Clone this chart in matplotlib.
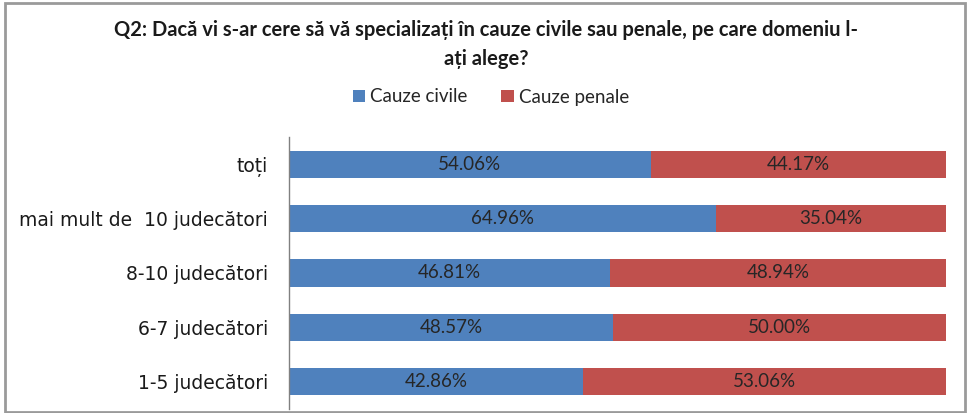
import matplotlib
matplotlib.use("Agg")
import matplotlib.pyplot as plt
from matplotlib.patches import Rectangle
import numpy as np

categories = ["toți", "mai mult de  10 judecători", "8-10 judecători", "6-7 judecători", "1-5 judecători"]
civile = [54.06, 64.96, 46.81, 48.57, 42.86]
penale = [44.17, 35.04, 48.94, 50.00, 53.06]
series_names = ["Cauze civile", "Cauze penale"]
title = "Q2: Dacă vi s-ar cere să vă specializați în cauze civile sau penale, pe care domeniu l-\nați alege?"

blue = "#4F81BD"
red = "#C0504D"

fig = plt.figure(figsize=(9.68, 4.13), dpi=100)
ax = fig.add_axes([289/968, 1-409/413, (946-289)/968, (409-137)/413])

civ = np.array(civile)
pen = np.array(penale)
tot = civ + pen
civ_n = civ / tot
pen_n = pen / tot
y = np.arange(len(categories))

b1 = ax.barh(y, civ_n, height=0.5, color=blue, label=series_names[0])
b2 = ax.barh(y, pen_n, left=civ_n, height=0.5, color=red, label=series_names[1])

lab_font = dict(family=["Lato", "DejaVu Sans"], fontsize=13.5, color="#262626")
for i in range(len(categories)):
    ax.text(civ_n[i] / 2, y[i], f"{civ[i]:.2f}%", ha="center", va="center", **lab_font)
    ax.text(civ_n[i] + pen_n[i] / 2, y[i], f"{pen[i]:.2f}%", ha="center", va="center", **lab_font)

ax.set_xlim(0, 1)
ax.set_ylim(len(categories) - 0.5, -0.5)
ax.set_yticks(y)
ax.set_yticklabels(categories, family=["DejaVu Sans"], fontsize=13.5, color="#1a1a1a")
ax.tick_params(axis="y", length=0, pad=15)
ax.set_xticks([])
for s in ["top", "right", "bottom"]:
    ax.spines[s].set_visible(False)
ax.spines["left"].set_color("#808080")
ax.spines["left"].set_linewidth(1.0)

fig.text(486/968, 1-20/413, title, ha="center", va="top", fontsize=14.5, fontweight="bold",
         family=["Lato", "DejaVu Sans"], color="#1a1a1a", linespacing=1.55, transform=fig.transFigure)

leg = fig.legend(handles=[b1, b2], loc="center", bbox_to_anchor=(491/968, 1-97/413), ncol=2, frameon=False,
                 prop={"family": ["Lato", "DejaVu Sans"], "size": 13.5}, handlelength=0.65, handleheight=0.65,
                 handletextpad=0.3, columnspacing=1.8)
for t in leg.get_texts():
    t.set_color("#262626")

fig.patches.append(Rectangle((5/968, 1/413), 960/968, 409/413, transform=fig.transFigure,
                             fill=False, edgecolor="#9a9a9a", linewidth=2.0))

fig.savefig("out.png", dpi=100)
